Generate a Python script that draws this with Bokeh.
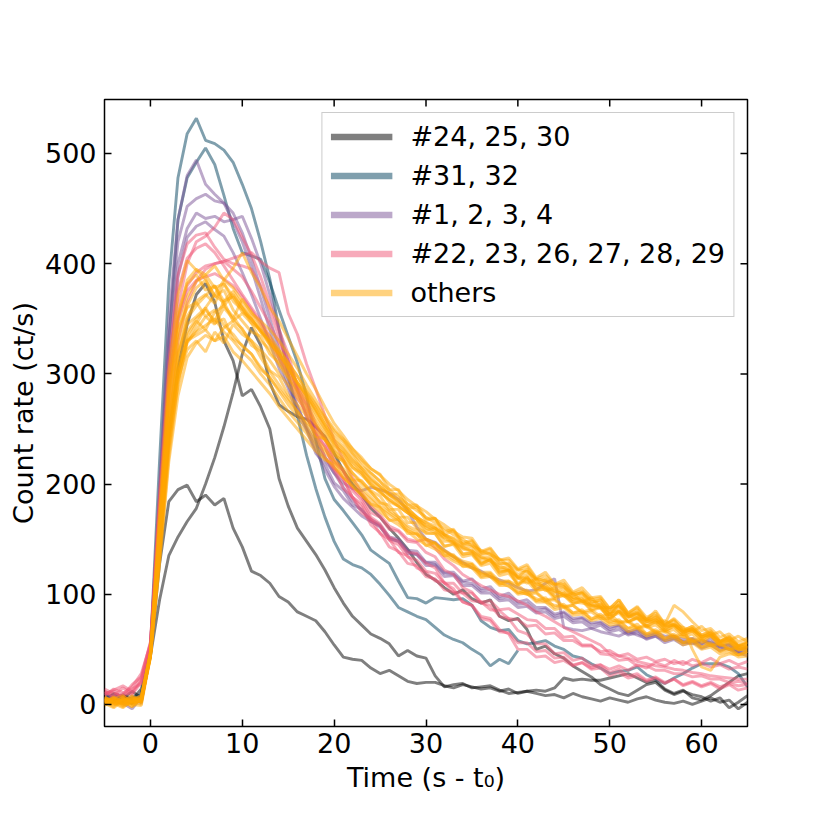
import math
from bokeh.plotting import figure
from bokeh.models import Range1d, FixedTicker, Legend, LegendItem
from bokeh.embed import file_html
from bokeh.resources import INLINE

nan = float("nan")

# time bins (s - t0)
time_s = list(range(-5, 66))
x_ticks = [0, 10, 20, 30, 40, 50, 60]
y_ticks = [0, 100, 200, 300, 400, 500]
x_lim = [-5, 65]
y_lim = [-20, 549]

# ---- #24, 25, 30 (gray)
gray_24 = [6, 2, 9, 4, 14, 48, 150, 245, 305, 345,
           372, 382, 365, 330, 312, 280, 286, 270, 250, 205,
           180, 160, 148, 136, 122, 106, 92, 80, 72, 64,
           60, 55, 44, 49, 44, 42, 26, 16, 18, 19,
           15, 16, 17, 13, 10, 11, 12, 13, 12, 15,
           24, 22, 23, 22, 22, 24, 26, 28, 24, 20,
           22, 14, 10, 13, 6, 4, 8, 14, 20, 26,
           28]
gray_25 = [4, 10, 7, 1, 8, 44, 95, 135, 152, 166,
           178, 200, 224, 252, 283, 318, 342, 326, 292, 272,
           266, 261, 259, 252, 243, 228, 212, 200, 190, 178,
           170, 160, 151, 141, 129, 118, 113, 106, 100, 104,
           96, 92, 95, 80, 76, 78, 68, 50, 53, 46,
           42, 35, 30, 25, 18, 14, 10, 8, 13, 18,
           20, 13, 9, 12, 9, 7, 3, 6, -3, 2,
           8]
gray_30 = [9, 3, 5, 12, 6, 46, 128, 184, 195, 199,
           184, 190, 181, 187, 160, 143, 121, 117, 110, 98,
           93, 84, 80, 76, 66, 54, 43, 41, 40, 33,
           28, 31, 26, 21, 19, 20, 20, 17, 15, 18,
           16, 14, 15, 12, 14, 10, 12, 10, 8, 9,
           6, 10, 7, 5, 3, 6, 4, 2, 5, 7,
           4, 2, 1, 3, 0, 3, 6, 2, 4, -4,
           2]

# ---- #31, 32 (blue)
blue_31 = [11, 4, 2, 6, 9, 50, 222, 382, 478, 518,
           532, 512, 509, 503, 492, 472, 450, 420, 386, 340,
           300, 262, 226, 196, 170, 148, 132, 127, 124, 118,
           109, 99, 88, 84, 80, 77, 70, 63, 59, 56,
           50, 45, 35, 41, 37, 49] + [nan] * 25
blue_32 = [5, 9, 4, 1, 10, 46, 182, 330, 440, 478,
           492, 505, 490, 462, 432, 410, 407, 404, 383, 358,
           334, 310, 280, 240, 205, 186, 176, 165, 154, 140,
           134, 128, 112, 97, 96, 92, 97, 96, 95, 96,
           90, 76, 70, 67, 68, 58, 55, 56, 58, 53,
           50, 44, 42, 37, 33, 28, 30, 31, 34, 27,
           23, 19, 24, 28, 33, 37, 37, 37, 34, 28,
           16]

# ---- #1, 2, 3, 4 (purple)
purple_1 = [7, 3, 1, -4, 6, 50, 200, 350, 440, 480,
            494, 472, 463, 455, 438, 420, 396, 368, 340, 314,
            290, 270, 252, 237, 222, 210, 201, 196, 194, 197,
            195, 192, 186, 176, 161, 150, 147, 140, 134, 129,
            124, 121, 116, 113, 110, 106, 103, 104, 110, 114,
            70, 68, 67, 69, 66, 64, 62, 66, 63, 60,
            62, 58, 60, 57, 55, 58, 56, 52, 50, 47,
            44]
purple_2 = [4, 8, 2, 5, 3, 48, 190, 332, 420, 452,
            459, 463, 457, 455, 446, 428, 404, 378, 350, 322,
            296, 271, 250, 231, 213, 198, 187, 179, 171, 166,
            161, 151, 148, 139, 136, 129, 127, 119, 118, 111,
            110, 103, 104, 96, 98, 91, 92, 85, 87, 80,
            83, 76, 78, 72, 74, 68, 71, 64, 67, 61,
            64, 59, 62, 56, 59, 54, 57, 52, 54, 48,
            51]
purple_3 = [10, 6, 3, 8, 1, 46, 180, 312, 400, 432,
            446, 441, 443, 438, 440, 443, 423, 400, 372, 341,
            311, 285, 262, 242, 225, 210, 197, 185, 176, 168,
            163, 152, 150, 140, 139, 129, 129, 120, 120, 112,
            114, 105, 107, 98, 101, 93, 95, 88, 88, 82,
            84, 78, 79, 74, 75, 70, 72, 66, 68, 63,
            65, 62, 62, 59, 60, 55, 60, 53, 55, 50,
            52]
purple_4 = [3, 7, 5, 2, 9, 45, 170, 300, 388, 424,
            434, 438, 431, 425, 410, 392, 372, 350, 328, 305,
            287, 263, 249, 228, 218, 201, 194, 181, 177, 166,
            162, 150, 148, 137, 136, 126, 126, 116, 117, 108,
            108, 101, 101, 94, 95, 88, 89, 83, 84, 78,
            80, 74, 75, 69, 72, 66, 68, 63, 65, 59,
            62, 56, 59, 54, 57, 51, 54, 49, 52, 47,
            48]

# ---- #22, 23, 26, 27, 28, 29 (pink)
pink_22 = [12, 8, 15, 10, 22, 54, 170, 282, 360, 400,
           420, 425, 433, 446, 440, 424, 408, 388, 364, 340,
           318, 288, 270, 248, 234, 214, 204, 188, 182, 168,
           162, 149, 145, 134, 131, 121, 119, 110, 110, 101,
           101, 93, 94, 86, 87, 82, 77, 76, 69, 69,
           61, 62, 54, 54, 46, 45, 40, 41, 35, 35,
           31, 31, 28, 28, 25, 26, 23, 23, 20, 21,
           19]
pink_23 = [14, 10, 8, 18, 25, 56, 192, 312, 390, 418,
           426, 428, 415, 404, 400, 398, 395, 380, 358, 333,
           308, 286, 260, 246, 224, 213, 196, 188, 174, 168,
           155, 150, 138, 135, 124, 120, 112, 111, 102, 101,
           94, 93, 86, 85, 78, 77, 71, 72, 64, 65,
           58, 58, 53, 53, 48, 49, 44, 46, 41, 43,
           39, 41, 37, 39, 35, 37, 34, 36, 32, 34,
           32]
pink_26 = [10, 12, 6, 14, 19, 52, 160, 262, 330, 365,
           384, 395, 400, 402, 405, 408, 410, 402, 396, 392,
           355, 336, 309, 286, 262, 240, 222, 206, 192, 180,
           172, 162, 158, 150, 148, 150, 142, 132, 126, 118,
           113, 108, 104, 100, 98, 94, 90, 84, 80, 75,
           70, 66, 62, 58, 54, 46, 44, 42, 39, 37,
           35, 34, 32, 31, 29, 28, 26, 25, 24, 23,
           23]
pink_27 = [8, 14, 11, 9, 20, 53, 185, 300, 375, 405,
           414, 418, 410, 398, 385, 372, 360, 348, 334, 318,
           304, 284, 272, 252, 240, 220, 212, 196, 188, 174,
           170, 159, 157, 148, 147, 138, 134, 122, 118, 106,
           102, 92, 90, 80, 78, 67, 64, 55, 55, 46,
           47, 40, 42, 35, 36, 29, 32, 26, 28, 22,
           25, 20, 23, 17, 20, 16, 19, 14, 18, 13,
           15]
pink_28 = [12, 6, 10, 16, 28, 55, 175, 290, 350, 380,
           392, 398, 400, 402, 395, 388, 375, 360, 345, 328,
           312, 290, 276, 254, 242, 222, 212, 194, 185, 170,
           164, 152, 148, 138, 137, 128, 124, 110, 105, 93,
           90, 78, 76, 66, 65, 56, 56, 48, 49, 42,
           43, 36, 38, 32, 33, 26, 29, 24, 26, 21,
           24, 19, 23, 18, 21, 17, 20, 16, 19, 17,
           18]
pink_29 = [9, 13, 17, 12, 24, 57, 178, 285, 348, 375,
           385, 388, 391, 386, 380, 370, 358, 345, 330, 314,
           299, 278, 265, 245, 234, 215, 205, 188, 179, 163,
           156, 143, 139, 128, 126, 116, 114, 104, 102, 93,
           90, 80, 78, 68, 64, 50, 50, 43, 44, 38,
           40, 35, 38, 33, 36, 32, 35, 31, 36, 33,
           38, 35, 40, 36, 41, 38, 42, 37, 40, 36,
           39]

# ---- others (orange)
other_05 = [3, -2, 5, 1, 4, 46, 178, 302, 372, 403,
            394, 386, 371, 365, 348, 341, 326, 320, 303, 297,
            281, 272, 262, 243, 241, 226, 221, 204, 203, 193,
            183, 181, 170, 170, 160, 156, 155, 143, 146, 137,
            137, 127, 132, 120, 122, 115, 110, 114, 103, 106,
            98, 101, 93, 97, 88, 88, 90, 81, 84, 77,
            80, 72, 78, 70, 66, 71, 63, 66, 58, 62,
            57]
other_06 = [-1, 4, 2, 7, 3, 44, 160, 280, 350, 385,
            395, 390, 378, 382, 366, 358, 349, 340, 327, 318,
            306, 292, 282, 268, 254, 240, 232, 222, 214, 204,
            198, 190, 186, 176, 170, 165, 162, 154, 151, 146,
            145, 136, 137, 128, 128, 122, 121, 113, 114, 108,
            107, 100, 101, 94, 92, 86, 89, 81, 82, 77,
            77, 71, 72, 66, 68, 62, 63, 57, 58, 53,
            52]
other_07 = [5, 1, -3, 4, 8, 47, 150, 262, 330, 362,
            378, 385, 370, 376, 358, 348, 338, 334, 318, 310,
            298, 285, 275, 260, 248, 235, 228, 215, 210, 198,
            194, 184, 180, 174, 168, 158, 160, 148, 148, 136,
            138, 128, 131, 119, 122, 108, 116, 104, 105, 98,
            99, 93, 92, 90, 87, 78, 85, 75, 78, 70,
            72, 66, 68, 61, 64, 56, 62, 53, 55, 50,
            50]
other_08 = [0, 6, 3, -2, 5, 45, 145, 250, 315, 350,
            362, 371, 380, 366, 370, 356, 350, 338, 330, 321,
            310, 298, 284, 272, 258, 245, 238, 228, 216, 210,
            203, 191, 191, 178, 179, 167, 169, 154, 158, 145,
            148, 137, 138, 128, 127, 115, 123, 110, 113, 105,
            107, 97, 101, 91, 95, 81, 91, 80, 83, 75,
            79, 71, 73, 66, 69, 61, 65, 57, 60, 53,
            56]
other_09 = [4, 2, 6, 0, -1, 43, 140, 240, 300, 335,
            348, 340, 356, 362, 372, 360, 346, 330, 322, 308,
            296, 282, 270, 256, 244, 230, 222, 210, 200, 192,
            184, 176, 170, 162, 158, 150, 146, 139, 134, 128,
            127, 118, 119, 110, 112, 105, 100, 101, 94, 95,
            88, 90, 83, 84, 78, 78, 74, 75, 69, 71,
            65, 66, 61, 62, 57, 58, 53, 55, 50, 51,
            48]
other_10 = [2, 7, 1, 3, 6, 46, 135, 232, 292, 328,
            340, 352, 345, 360, 350, 368, 355, 348, 340, 330,
            318, 305, 290, 276, 262, 250, 241, 232, 222, 214,
            209, 195, 195, 181, 181, 169, 169, 157, 159, 147,
            149, 138, 141, 131, 131, 122, 125, 114, 117, 109,
            110, 101, 103, 95, 97, 87, 95, 83, 88, 77,
            85, 73, 90, 84, 75, 67, 69, 61, 64, 57,
            60]
other_11 = [6, 3, 0, 5, 2, 44, 150, 255, 318, 345,
            352, 360, 346, 350, 332, 326, 318, 304, 297, 284,
            272, 262, 250, 238, 229, 220, 210, 202, 193, 186,
            178, 172, 166, 158, 154, 148, 143, 138, 132, 128,
            124, 119, 116, 111, 107, 102, 100, 96, 93, 90,
            89, 83, 84, 78, 80, 74, 75, 69, 70, 64,
            66, 60, 62, 56, 58, 52, 54, 49, 50, 45,
            46]
other_12 = [1, -3, 4, 2, 5, 42, 130, 225, 290, 330,
            345, 360, 372, 385, 396, 410, 392, 378, 360, 348,
            332, 316, 300, 286, 270, 255, 244, 232, 224, 214,
            208, 200, 194, 186, 180, 175, 168, 163, 157, 152,
            151, 139, 142, 131, 133, 123, 127, 115, 120, 109,
            113, 102, 106, 97, 98, 87, 95, 83, 89, 79,
            83, 73, 77, 67, 71, 63, 67, 57, 62, 53,
            56]
other_13 = [5, 0, 3, 8, 2, 45, 140, 240, 300, 330,
            338, 344, 350, 338, 330, 320, 312, 300, 290, 278,
            266, 256, 246, 234, 224, 215, 206, 198, 190, 182,
            175, 168, 163, 157, 150, 145, 141, 135, 130, 126,
            124, 115, 116, 108, 108, 100, 101, 93, 93, 86,
            88, 81, 82, 76, 78, 72, 73, 66, 69, 62,
            64, 58, 60, 54, 56, 50, 52, 46, 48, 43,
            44]
other_14 = [3, 6, -1, 2, 4, 44, 138, 235, 295, 322,
            330, 320, 338, 328, 345, 336, 330, 322, 312, 300,
            290, 278, 266, 254, 240, 228, 220, 210, 202, 194,
            189, 177, 177, 165, 165, 155, 155, 144, 145, 134,
            136, 126, 128, 117, 119, 109, 112, 103, 105, 96,
            99, 91, 94, 85, 88, 79, 83, 75, 79, 71,
            75, 67, 71, 63, 67, 59, 63, 55, 58, 50,
            53]
other_15 = [2, 5, 8, 1, 3, 48, 170, 290, 355, 382,
            390, 376, 380, 362, 352, 340, 330, 315, 302, 290,
            278, 266, 254, 242, 232, 222, 214, 204, 196, 188,
            180, 174, 168, 160, 155, 150, 146, 140, 135, 130,
            128, 120, 120, 112, 112, 108, 102, 102, 95, 96,
            89, 90, 84, 86, 80, 82, 75, 76, 70, 72,
            66, 68, 62, 64, 58, 60, 54, 56, 50, 52,
            50]
other_16 = [7, 2, 4, -2, 6, 45, 142, 244, 305, 338,
            350, 358, 348, 366, 375, 362, 352, 340, 328, 318,
            305, 292, 280, 266, 252, 238, 230, 220, 212, 203,
            196, 190, 183, 178, 170, 165, 160, 154, 150, 144,
            143, 133, 134, 124, 125, 115, 118, 108, 111, 102,
            105, 95, 98, 89, 91, 81, 89, 79, 83, 73,
            77, 69, 73, 65, 69, 61, 65, 57, 61, 54,
            57]
other_17 = [4, 1, 7, 3, 0, 47, 158, 270, 338, 370,
            384, 390, 398, 385, 378, 366, 356, 344, 334, 322,
            310, 298, 285, 272, 260, 248, 240, 228, 220, 210,
            202, 195, 188, 182, 176, 170, 165, 160, 154, 150,
            144, 140, 136, 132, 126, 118, 121, 114, 112, 109,
            109, 99, 102, 93, 95, 83, 93, 82, 86, 77,
            81, 72, 76, 67, 71, 63, 66, 58, 61, 53,
            55]
other_18 = [6, 3, 1, 5, 7, 46, 145, 245, 302, 330,
            335, 340, 330, 334, 320, 312, 302, 292, 282, 270,
            260, 250, 240, 230, 222, 218, 206, 198, 190, 182,
            179, 167, 168, 155, 155, 144, 147, 135, 136, 125,
            127, 116, 118, 109, 111, 101, 104, 94, 97, 88,
            91, 83, 86, 77, 82, 75, 77, 69, 73, 64,
            68, 60, 64, 56, 60, 52, 56, 48, 52, 45,
            48]
other_19 = [1, 4, 0, 6, 2, 45, 165, 280, 340, 360,
            365, 352, 358, 344, 336, 325, 318, 306, 296, 286,
            276, 266, 256, 248, 240, 232, 224, 215, 208, 200,
            192, 186, 180, 174, 168, 162, 158, 152, 147, 142,
            140, 132, 132, 123, 122, 114, 115, 107, 108, 101,
            102, 95, 96, 89, 90, 84, 85, 79, 81, 75,
            77, 70, 72, 66, 68, 62, 62, 56, 58, 52,
            53]
other_20 = [3, 0, 5, 2, 4, 43, 128, 220, 280, 315,
            328, 335, 330, 342, 348, 355, 346, 340, 330, 318,
            306, 292, 280, 268, 254, 242, 234, 224, 214, 206,
            198, 191, 184, 178, 170, 162, 160, 154, 148, 143,
            139, 134, 130, 126, 122, 116, 114, 110, 106, 103,
            100, 97, 94, 91, 88, 82, 84, 80, 78, 76,
            74, 76, 72, 70, 50, 34, 31, 43, 46, 45,
            48]
other_21 = [5, 2, -2, 3, 6, 46, 148, 255, 320, 352,
            366, 372, 364, 382, 370, 360, 350, 338, 326, 314,
            302, 290, 278, 264, 250, 236, 228, 218, 210, 200,
            193, 186, 180, 174, 168, 160, 156, 151, 146, 141,
            139, 129, 131, 121, 121, 110, 114, 105, 107, 98,
            101, 92, 95, 86, 89, 77, 85, 75, 79, 71,
            75, 67, 71, 63, 67, 59, 63, 54, 57, 49,
            53]

groups = [
    ("#24, 25, 30", "black", [gray_24, gray_25, gray_30]),
    ("#31, 32", "#003f5c", [blue_31, blue_32]),
    ("#1, 2, 3, 4", "#7a5195", [purple_1, purple_2, purple_3, purple_4]),
    ("#22, 23, 26, 27, 28, 29", "#ef5675",
     [pink_22, pink_23, pink_26, pink_27, pink_28, pink_29]),
    ("others", "#ffa600",
     [other_05, other_06, other_07, other_08, other_09, other_10, other_11,
      other_12, other_13, other_14, other_15, other_16, other_17, other_18,
      other_19, other_20, other_21]),
]

FONT = "DejaVu Sans"
FS = "27px"

p = figure(frame_width=643, frame_height=627,
           x_range=Range1d(*x_lim), y_range=Range1d(*y_lim),
           output_backend="svg", toolbar_location=None,
           min_border_left=104, min_border_top=99,
           min_border_right=60, min_border_bottom=85)
p.background_fill_color = "white"
p.border_fill_color = "white"
p.xgrid.visible = False
p.ygrid.visible = False
p.outline_line_color = "black"
p.outline_line_width = 1.5
p.outline_line_alpha = 1.0

for label, color, series in groups:
    for ys in series:
        p.line(time_s, ys, line_color=color, line_alpha=0.5, line_width=2.9)

# inward tick marks on the top and right spines
p.ray(x=x_ticks, y=[y_lim[1]] * len(x_ticks), length=7, length_units="screen",
      angle=-math.pi / 2, line_color="black", line_width=1.5)
p.ray(x=[x_lim[1]] * len(y_ticks), y=y_ticks, length=7, length_units="screen",
      angle=math.pi, line_color="black", line_width=1.5)

items = []
for label, color, series in groups:
    r = p.line([nan], [nan], line_color=color, line_alpha=0.5, line_width=6.5)
    items.append(LegendItem(label=label, renderers=[r]))

legend = Legend(items=items, location="top_right", margin=13,
                border_line_color="#cccccc", border_line_width=1.5,
                border_line_alpha=1.0, background_fill_color="white",
                background_fill_alpha=0.8,
                label_text_font=FONT, label_text_font_size=FS,
                label_text_color="black",
                glyph_width=62, glyph_height=31, label_height=31,
                spacing=8, padding=8, label_standoff=18)
p.add_layout(legend)


def style_axis(ax):
    ax.axis_line_color = None
    ax.major_tick_in = 7
    ax.major_tick_out = 0
    ax.major_tick_line_width = 1.5
    ax.major_tick_line_color = "black"
    ax.minor_tick_line_color = None
    ax.major_label_text_font = FONT
    ax.major_label_text_font_size = FS
    ax.major_label_text_color = "black"
    ax.axis_label_text_font = FONT
    ax.axis_label_text_font_size = FS
    ax.axis_label_text_font_style = "normal"
    ax.axis_label_text_color = "black"


xa = p.xaxis[0]
xa.ticker = FixedTicker(ticks=x_ticks)
xa.axis_label = "Time (s - t\u2080)"
style_axis(xa)
xa.major_label_standoff = 6
xa.axis_label_standoff = 6

ya = p.yaxis[0]
ya.ticker = FixedTicker(ticks=y_ticks)
ya.axis_label = "Count rate (ct/s)"
style_axis(ya)
ya.major_label_standoff = 8
ya.axis_label_standoff = 3

open("out.html", "w").write(file_html(p, INLINE))
